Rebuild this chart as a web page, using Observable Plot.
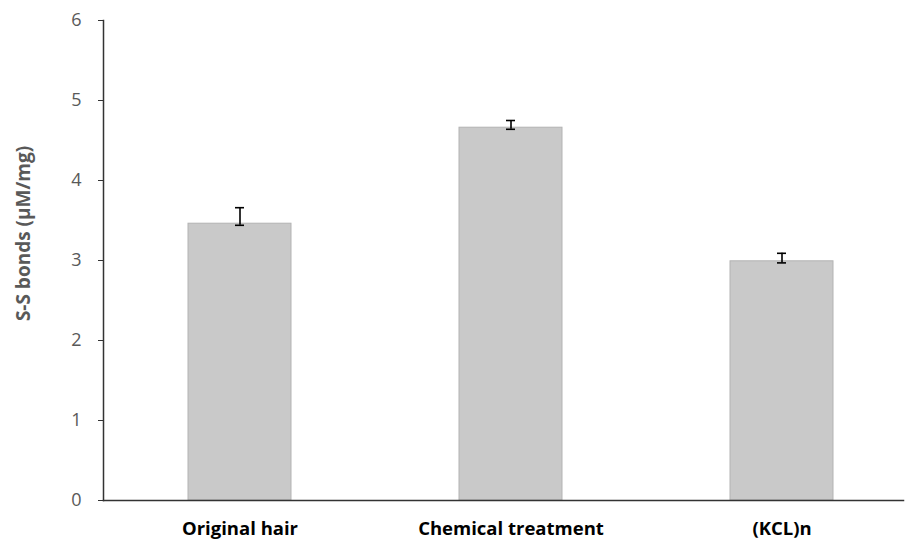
<!DOCTYPE html>
<html>
<head>
<meta charset="utf-8">
<script src="https://cdn.jsdelivr.net/npm/d3@7"></script>
<script src="https://cdn.jsdelivr.net/npm/@observablehq/plot@0.6"></script>
<style>
  html, body { margin: 0; padding: 0; background: #fff; }
  #chart { width: 905px; height: 541px; }
</style>
</head>
<body>
<div id="chart"></div>
<script>
const categories = ["Original hair", "Chemical treatment", "(KCL)n"];
const values = [3.46, 4.66, 2.99];
const errLow = [3.44, 4.64, 2.97];
const errHigh = [3.66, 4.75, 3.09];
const yTicks = [0, 1, 2, 3, 4, 5, 6];
const yTitle = "S-S bonds (µM/mg)";

const data = categories.map((c, i) => ({ cat: c, v: values[i], lo: errLow[i], hi: errHigh[i] }));

const font = "'Open Sans', Lato, sans-serif";

const chart = Plot.plot({
  width: 905,
  height: 541,
  marginTop: 20,
  marginBottom: 41,
  marginLeft: 103,
  marginRight: 2,
  style: { fontFamily: font, background: "#fff" },
  x: { domain: categories, range: [104, 917], paddingInner: 0.62, paddingOuter: 0.31, label: null },
  y: { domain: [0, 6], label: null },
  marks: [
    Plot.barY(data, { x: "cat", y: "v", fill: "#c9c9c9", stroke: "#b3b3b3", strokeWidth: 1 }),
    Plot.ruleX(data, { x: "cat", y1: "lo", y2: "hi", stroke: "#000", strokeWidth: 1.6 }),
    Plot.tickY(data, { x: "cat", y: "lo", stroke: "#000", strokeWidth: 1.6, inset: 47 }),
    Plot.tickY(data, { x: "cat", y: "hi", stroke: "#000", strokeWidth: 1.6, inset: 47 }),
    Plot.axisY({ ticks: yTicks, tickSize: 5, tickPadding: 17, tickFormat: d3.format("d"), fill: "#595959", stroke: "#333", fontSize: 18, label: null }),
    Plot.text([yTitle], { text: d => d, frameAnchor: "top-left", textAnchor: "middle", lineAnchor: "middle", dx: -80, dy: 213, rotate: -90, fill: "#595959", fontSize: 19, fontWeight: "bold" }),
    Plot.axisX({ tickSize: 0, tickPadding: 21, fill: "#000", fontSize: 18.5, fontWeight: "bold", label: null }),
    Plot.frame({ anchor: "left", stroke: "#333", strokeWidth: 1.5 }),
    Plot.frame({ anchor: "bottom", stroke: "#333", strokeWidth: 1.5 })
  ]
});
document.getElementById("chart").appendChild(chart);
</script>
</body>
</html>
